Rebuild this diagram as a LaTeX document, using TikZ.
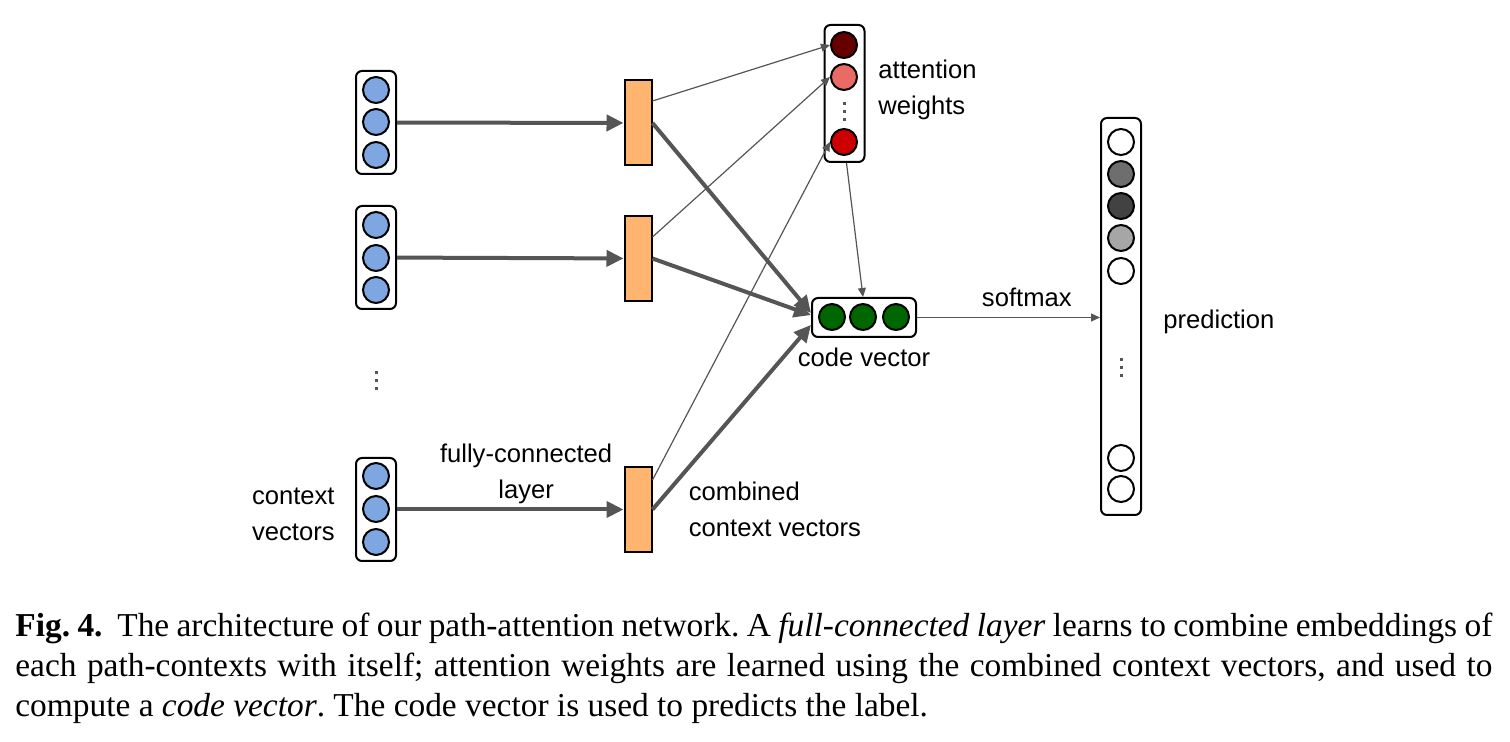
\documentclass[tikz,border=0pt]{standalone}
\usepackage{fontspec}
\setmainfont{Liberation Serif}
\setsansfont{Liberation Sans}
\usetikzlibrary{arrows.meta,positioning}

\definecolor{ctxblue}{HTML}{7EA6E0}
\definecolor{combfill}{HTML}{FFB570}
\definecolor{arrowgray}{HTML}{555555}
\definecolor{attdark}{HTML}{660000}
\definecolor{attlight}{HTML}{EA6B66}
\definecolor{attred}{HTML}{CC0000}
\definecolor{codegreen}{HTML}{006600}

\begin{document}
\begin{tikzpicture}[x=0.5pt,y=-0.5pt,
		vec/.style={draw=black,line width=1pt,rounded corners=3pt,inner sep=0pt,minimum width=20pt},
		neuron/.style={circle,draw=black,line width=1pt,inner sep=0pt,minimum size=13pt},
		comb/.style={draw=black,line width=1pt,fill=combfill,inner sep=0pt,minimum width=13.5pt,minimum height=42.5pt},
		fc/.style={draw=arrowgray,line width=2pt,-{Triangle[length=8.5pt,width=8pt]}},
		thinarrow/.style={draw=arrowgray,line width=0.6pt,-{Triangle[length=4.5pt,width=4pt]}},
		lbl/.style={font=\fontsize{12.8}{18}\selectfont\sffamily,inner sep=0pt,align=left}]

	\useasboundingbox (0,0) rectangle (1510,742);

	% context vectors
	\node[vec,minimum height=51.5pt] (ctx1) at (376,122.5) {};
	\foreach \y [count=\i] in {90,122,155}
		\node[neuron,fill=ctxblue] (ctx1-\i) at (376,\y) {};
	\node[vec,minimum height=51.5pt] (ctx2) at (376,257.5) {};
	\foreach \y [count=\i] in {225,258,290}
		\node[neuron,fill=ctxblue] (ctx2-\i) at (376,\y) {};
	\node[vec,minimum height=51.5pt] (ctx3) at (376,509.5) {};
	\foreach \y [count=\i] in {476,509,542}
		\node[neuron,fill=ctxblue] (ctx3-\i) at (376,\y) {};
	\foreach \y in {373,381,389}
		\fill[arrowgray] (374.5,\y-1.5) rectangle +(3,3);
	\node[lbl,align=center] (ctxlbl) [left=10pt of ctx3,yshift=-2.5pt] {context\\vectors};

	% combined context vectors
	\node[comb] (comb1) at (638,123) {};
	\node[comb] (comb2) at (638,258.5) {};
	\node[comb] (comb3) at (638,509.5) {};
	\node[lbl] (comblbl) [right=18pt of comb3] {combined\\context vectors};

	\draw[fc] (ctx1) -- (comb1);
	\draw[fc] (ctx2) -- (comb2);
	\draw[fc] (ctx3) -- (comb3) node[lbl,align=center,pos=0.57,above=2pt] (fclbl) {fully-connected\\layer};

	% attention weights
	\node[vec,minimum height=68.5pt] (att) at (844.5,93.5) {};
	\node[neuron,fill=attdark] (att-1) at (844,45) {};
	\node[neuron,fill=attlight] (att-2) at (844,77) {};
	\node[neuron,fill=attred] (att-3) at (844,142) {};
	\foreach \y in {104,112,120}
		\fill[arrowgray] (842.5,\y-1.5) rectangle +(3,3);
	\node[lbl,anchor=west] (attlbl) at (878,90) {attention\\weights};

	% code vector
	\node[vec,minimum width=52pt,minimum height=19.5pt] (code) at (864,317.5) {};
	\foreach \x [count=\i] in {832,863,896}
		\node[neuron,fill=codegreen] (code-\i) at (\x,317) {};
	\node[lbl] (codelbl) [below=5pt of code] {code vector};

	\draw[thinarrow] ([yshift=11pt]comb1.east) -- (att-1.west);
	\draw[thinarrow] ([yshift=10.75pt]comb2.east) -- (att-2.west);
	\draw[thinarrow] ([yshift=14.75pt]comb3.east) -- (att-3.west);
	\draw[fc] (comb1.east) -- ([yshift=2.25pt]code.west);
	\draw[fc] (comb2.east) -- ([yshift=1.2pt]code.west);
	\draw[fc] (comb3.east) -- ([yshift=-3.7pt]code.west);
	\draw[thinarrow] ([xshift=1pt]att.south) -- ([xshift=-0.5pt]code.north);

	% prediction
	\node[vec,minimum height=198.5pt] (pred) at (1121,316.5) {};
	\node[neuron,fill=white] (pred-1) at (1121,142) {};
	\node[neuron,fill=black!57] (pred-2) at (1121,174) {};
	\node[neuron,fill=black!74] (pred-3) at (1121,206) {};
	\node[neuron,fill=black!35] (pred-4) at (1121,238) {};
	\node[neuron,fill=white] (pred-5) at (1121,271) {};
	\node[neuron,fill=white] (pred-6) at (1121,458) {};
	\node[neuron,fill=white] (pred-7) at (1121,489) {};
	\foreach \y in {360,368,376}
		\fill[arrowgray] (1119.5,\y-1.5) rectangle +(3,3);
	\node[lbl] (predlbl) [right=10.5pt of pred,yshift=-2.5pt] {prediction};

	\draw[thinarrow] (code.east) -- (code.east -| pred.west) node[lbl,pos=0.6,above=5pt] (smlbl) {softmax};

	% caption
	\node[anchor=north west,inner sep=0pt,text width=738.5pt,align=justify,
		font=\fontsize{16.7}{20}\selectfont\frenchspacing] (cap) at (15,613)
		{\textbf{Fig.~4.}\ \ The architecture of our path-attention network. A \textit{full-connected layer} learns to combine embeddings of\linebreak
		each path-contexts with itself; attention weights are learned using the combined context vectors, and used to\linebreak
		compute a \textit{code vector}. The code vector is used to predicts the label.};
\end{tikzpicture}
\end{document}
